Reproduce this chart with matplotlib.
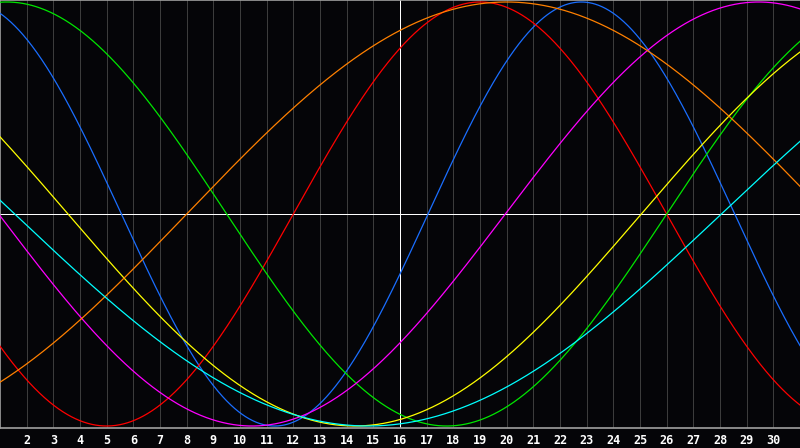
import numpy as np
import matplotlib
matplotlib.use("Agg")
import matplotlib.pyplot as plt

# Biorhythm cycles
cycle_names = ["physical", "emotional", "intellectual", "intuitive", "aesthetic", "awareness", "spiritual"]
periods = [23, 28, 33, 38, 43, 48, 53]          # days
peak_day = [22.8, 19.0, 1.25, 29.45, 35.8, 20.0, 41.3]  # day of month at which each cycle peaks
colors = ["#1a6eff", "#ff0000", "#00e600", "#ff00ff", "#ffff00", "#ff8000", "#00ffff"]

day_labels = list(range(2, 31))
first_day, last_day = 1, 31
center_day = 16

fig = plt.figure(figsize=(8.0, 4.48), dpi=100, facecolor="#050508")
ax = fig.add_axes([0, 20 / 448, 1, 428 / 448])
ax.set_facecolor("#050508")
ax.set_xlim(first_day, last_day)
ax.set_ylim(-1.0094, 1.0094)

for d in day_labels:
    ax.axvline(d, color="#3c3c3c", lw=0.5, zorder=1, antialiased=False)
ax.axvline(center_day, color="white", lw=0.5, zorder=2, antialiased=False)
ax.axhline(0, color="white", lw=0.5, zorder=2, antialiased=False)

days = np.linspace(first_day, last_day, 1600)
for P, pk, c in zip(periods, peak_day, colors):
    ax.plot(days, np.cos(2 * np.pi * (days - pk) / P), color=c, lw=0.9, zorder=3)

for s in ["top", "left", "bottom"]:
    ax.spines[s].set_color("#a0a0a0")
    ax.spines[s].set_linewidth(1.2)
ax.spines["right"].set_visible(False)

ax.set_xticks(day_labels)
ax.set_xticklabels([str(d) for d in day_labels], color="white",
                   fontsize=8.5, fontweight="bold", family="DejaVu Sans Mono")
ax.tick_params(axis="x", length=0, pad=4)
ax.set_yticks([])

fig.savefig("out.png", dpi=100, facecolor=fig.get_facecolor())
